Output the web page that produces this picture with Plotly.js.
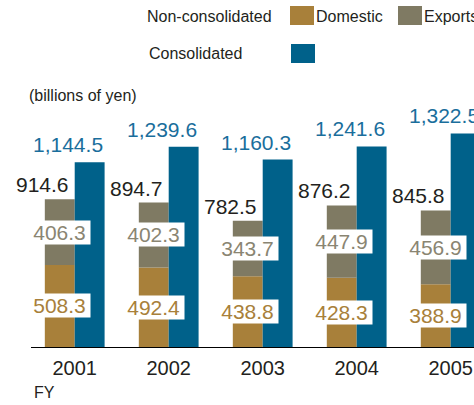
<!DOCTYPE html>
<html>
<head>
<meta charset="utf-8">
<script src="https://cdn.plot.ly/plotly-3.0.1.min.js"></script>
<style>html,body{margin:0;padding:0;background:#fff;}#chart{width:474px;height:405px;}</style>
</head>
<body>
<div id="chart"></div>
<script>
var years = ['2001', '2002', '2003', '2004', '2005'];
var domestic = [508.3, 492.4, 438.8, 428.3, 388.9];
var exportsV = [406.3, 402.3, 343.7, 447.9, 456.9];
var nonConsTotal = [914.6, 894.7, 782.5, 876.2, 845.8];
var consolidated = [1144.5, 1239.6, 1160.3, 1241.6, 1322.5];

var C_DOM = '#a8803a', C_EXP = '#7f7a63', C_CONS = '#00618a';
var T_DOM = '#a8803a', T_EXP = '#8a8572', T_CONS = '#1a6e9c', T_BLK = '#231f20';
var FONT = 'Liberation Sans, Arial, Helvetica, sans-serif';
var VS = 21;
var W = 0.318;
var UNIT_PX = 94;
var idx = years.map(function (_, i) { return i; });

var traces = [
  {type: 'bar', name: 'Domestic', x: idx, y: domestic, width: W, offset: -W,
   marker: {color: C_DOM, line: {width: 0}}, hoverinfo: 'skip'},
  {type: 'bar', name: 'Exports', x: idx, y: exportsV, base: domestic, width: W, offset: -W,
   marker: {color: C_EXP, line: {width: 0}}, hoverinfo: 'skip'},
  {type: 'bar', name: 'Consolidated', x: idx, y: consolidated, width: W, offset: 0,
   marker: {color: C_CONS, line: {width: 0}}, hoverinfo: 'skip'}
];

var annotations = [];
var sp = '\u2009';
idx.forEach(function (i) {
  annotations.push({x: i, y: consolidated[i], xref: 'x', yref: 'y', text: consolidated[i].toLocaleString('en-US', {minimumFractionDigits: 1}),
    xanchor: 'right', yanchor: 'bottom', xshift: W * UNIT_PX, yshift: 4, showarrow: false, font: {family: FONT, size: VS, color: T_CONS}});
  annotations.push({x: i, y: nonConsTotal[i], xref: 'x', yref: 'y', text: nonConsTotal[i].toFixed(1),
    xanchor: 'right', yanchor: 'bottom', xshift: -4, yshift: 1, showarrow: false, font: {family: FONT, size: VS, color: T_BLK}});
  annotations.push({x: i - W / 2, y: domestic[i] + exportsV[i] / 2, xref: 'x', yref: 'y', text: sp + exportsV[i].toFixed(1) + sp,
    xanchor: 'center', yanchor: 'middle', showarrow: false, bgcolor: '#ffffff', borderpad: 0,
    font: {family: FONT, size: VS, color: T_EXP}});
  annotations.push({x: i - W / 2, y: domestic[i] / 2, xref: 'x', yref: 'y', text: sp + domestic[i].toFixed(1) + sp,
    xanchor: 'center', yanchor: 'middle', showarrow: false, bgcolor: '#ffffff', borderpad: 0,
    font: {family: FONT, size: VS, color: T_DOM}});
});

// pixel helpers for legend / notes (plot area: x 31..474, y 0..347)
function px(x) { return (x - 31) / 443; }
function py(y) { return (347 - y) / 347; }
function note(text, x, y, size) {
  return {xref: 'paper', yref: 'paper', x: px(x), y: py(y), text: text, xanchor: 'left', yanchor: 'middle',
    showarrow: false, borderpad: 0, font: {family: FONT, size: size || 16, color: T_BLK}};
}
annotations.push(note('Non-consolidated', 146, 16));
annotations.push(note('Domestic', 315, 16));
annotations.push(note('Exports', 423, 16));
annotations.push(note('Consolidated', 148, 54));
annotations.push(note('(billions of yen)', 28, 95));
annotations.push(note('FY', 33, 392.5));

function box(x0, y0, x1, y1, c) {
  return {type: 'rect', xref: 'paper', yref: 'paper', x0: px(x0), x1: px(x1), y0: py(y1), y1: py(y0),
    fillcolor: c, line: {width: 0}, layer: 'above'};
}
var shapes = [
  box(290, 6, 314, 25, C_DOM),
  box(398, 6, 422, 25, C_EXP),
  box(291, 44, 315, 63, C_CONS)
];

var layout = {
  width: 474, height: 405,
  margin: {l: 31, r: 0, t: 0, b: 58},
  paper_bgcolor: '#ffffff', plot_bgcolor: '#ffffff',
  showlegend: false,
  barmode: 'overlay',
  font: {family: FONT, color: T_BLK},
  xaxis: {range: [-0.465, 4.248], tickvals: idx, ticktext: years, ticks: '', showgrid: false, zeroline: false,
    showline: true, linecolor: '#000000', linewidth: 1, ticklabelstandoff: 3,
    tickfont: {family: FONT, size: 20, color: T_BLK}, fixedrange: true},
  yaxis: {range: [0, 2148.6], visible: false, showgrid: false, zeroline: false, fixedrange: true},
  annotations: annotations,
  shapes: shapes
};

Plotly.newPlot('chart', traces, layout, {staticPlot: true, displayModeBar: false});
</script>
</body>
</html>
